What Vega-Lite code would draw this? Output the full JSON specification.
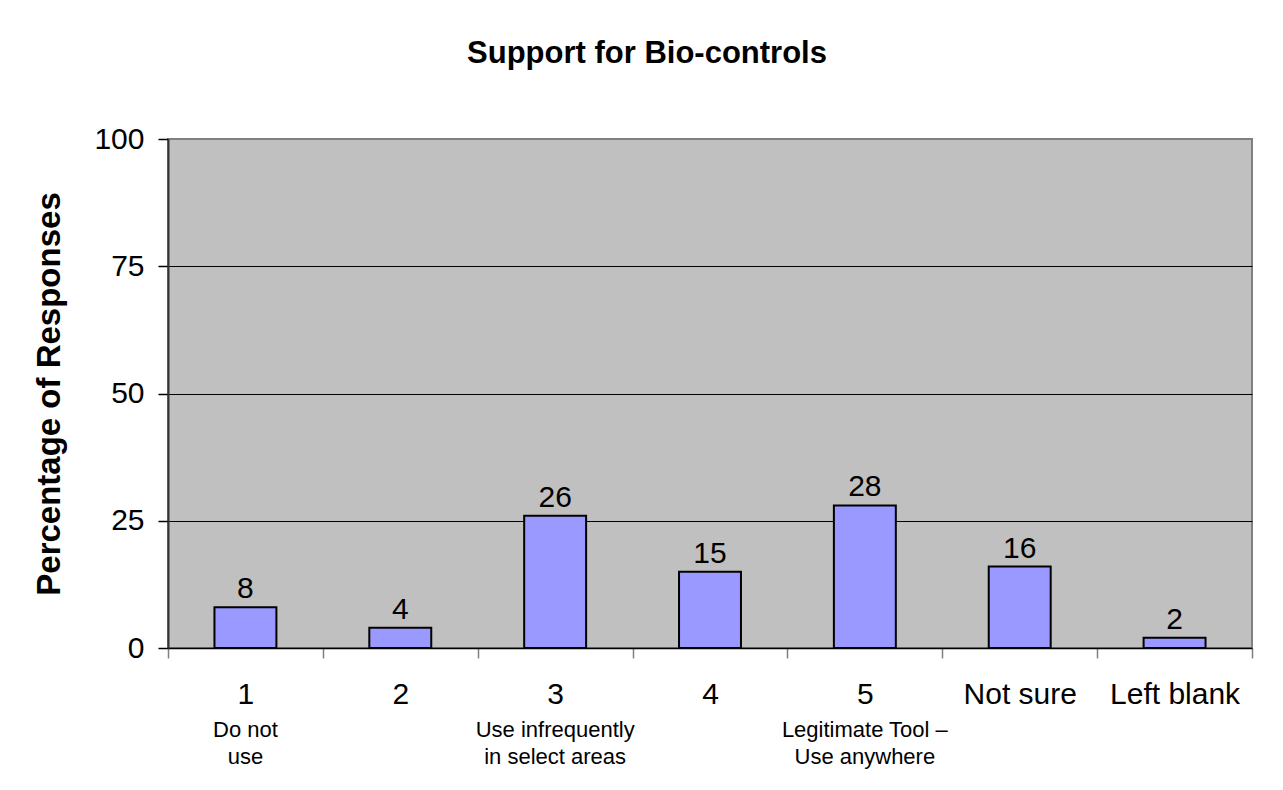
{
  "$schema": "https://vega.github.io/schema/vega-lite/v6.json",
  "autosize": "none",
  "width": 1084,
  "height": 509,
  "padding": {"left": 168, "top": 139, "right": 31, "bottom": 142},
  "background": "white",
  "title": {
    "text": "Support for Bio-controls",
    "font": "Liberation Sans",
    "fontSize": 31,
    "fontWeight": "bold",
    "color": "black",
    "anchor": "middle",
    "dx": -63,
    "offset": 54
  },
  "config": {
    "font": "Liberation Sans",
    "view": {"fill": "#C0C0C0", "stroke": "#808080", "strokeWidth": 2}
  },
  "data": {
    "values": [
      {"category": "1", "percent": 8, "sub": "Do not\nuse"},
      {"category": "2", "percent": 4, "sub": ""},
      {"category": "3", "percent": 26, "sub": "Use infrequently\nin select areas"},
      {"category": "4", "percent": 15, "sub": ""},
      {"category": "5", "percent": 28, "sub": "Legitimate Tool –\nUse anywhere"},
      {"category": "Not sure", "percent": 16, "sub": ""},
      {"category": "Left blank", "percent": 2, "sub": ""}
    ]
  },
  "encoding": {
    "x": {
      "field": "category",
      "type": "nominal",
      "sort": null,
      "scale": {"paddingInner": 0, "paddingOuter": 0},
      "axis": {
        "title": null,
        "labelAngle": 0,
        "labelFontSize": 30,
        "labelColor": "black",
        "labelPadding": 21,
        "tickBand": "extent",
        "tickSize": 10,
        "tickColor": "#808080",
        "tickWidth": 1.5,
        "domainColor": "black",
        "domainWidth": 1.5,
        "grid": false
      }
    }
  },
  "layer": [
    {
      "mark": {"type": "bar", "fill": "#9999FF", "stroke": "black", "strokeWidth": 2, "width": {"band": 0.4}},
      "encoding": {
        "y": {
          "field": "percent",
          "type": "quantitative",
          "scale": {"domain": [0, 100]},
          "axis": {
            "values": [0, 25, 50, 75, 100],
            "title": "Percentage of Responses",
            "titleFontSize": 33,
            "titleFontWeight": "bold",
            "titleColor": "black",
            "titlePadding": 27,
            "labelFontSize": 30,
            "labelColor": "black",
            "labelPadding": 14,
            "tickSize": 10,
            "tickColor": "black",
            "tickWidth": 1.5,
            "domainColor": "#333333",
            "domainWidth": 2,
            "grid": true,
            "gridColor": {"condition": {"test": "datum.value == 100 || datum.value == 0", "value": "#808080"}, "value": "black"},
            "gridWidth": 1
          }
        }
      }
    },
    {
      "mark": {"type": "text", "fontSize": 30, "color": "black", "baseline": "alphabetic", "dy": -9},
      "encoding": {
        "y": {"field": "percent", "type": "quantitative"},
        "text": {"field": "percent", "type": "quantitative"}
      }
    },
    {
      "mark": {"type": "text", "fontSize": 22, "color": "black", "baseline": "top", "lineBreak": "\n", "lineHeight": 27, "dy": 72},
      "encoding": {
        "y": {"datum": 0, "type": "quantitative"},
        "text": {"field": "sub", "type": "nominal"}
      }
    }
  ]
}
